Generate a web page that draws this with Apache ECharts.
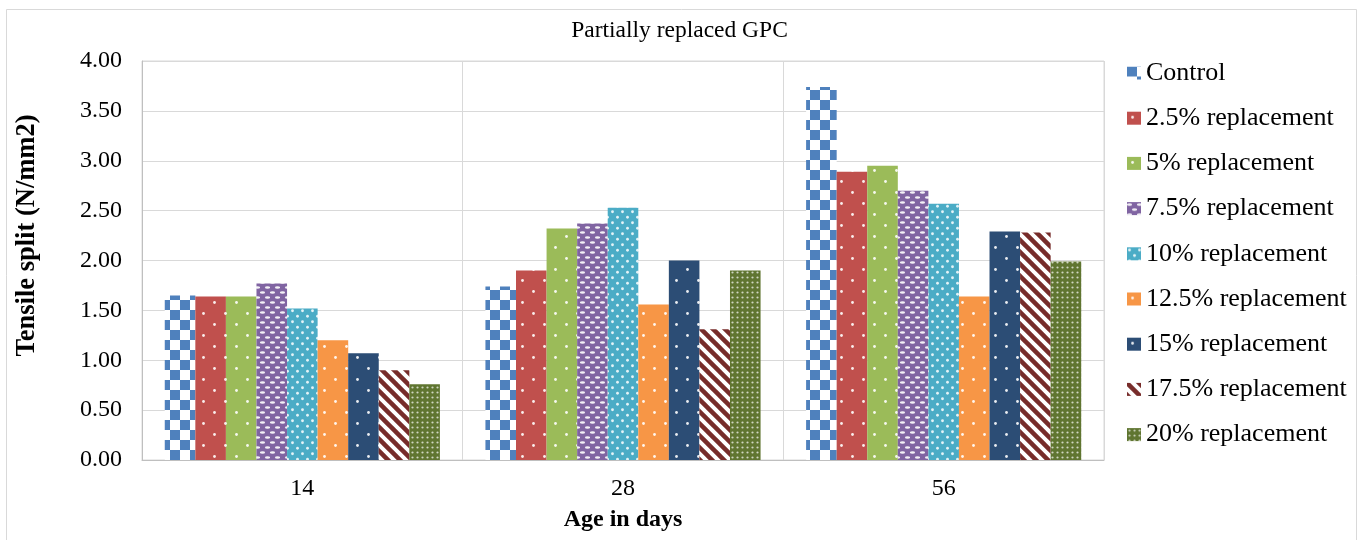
<!DOCTYPE html>
<html>
<head>
<meta charset="utf-8">
<script src="https://cdn.jsdelivr.net/npm/echarts@6/dist/echarts.min.js"></script>
<style>
html,body{margin:0;padding:0;background:#fff;}
#chart{width:1359px;height:540px;}
</style>
</head>
<body>
<div id="chart"></div>
<script>
const categories = ['14', '28', '56'];
const seriesNames = ['Control', '2.5% replacement', '5% replacement', '7.5% replacement', '10% replacement', '12.5% replacement', '15% replacement', '17.5% replacement', '20% replacement'];
const control = [1.65, 1.74, 3.74];
const rep2_5 = [1.64, 1.90, 2.89];
const rep5 = [1.64, 2.32, 2.95];
const rep7_5 = [1.77, 2.37, 2.70];
const rep10 = [1.52, 2.53, 2.57];
const rep12_5 = [1.20, 1.56, 1.64];
const rep15 = [1.07, 2.00, 2.29];
const rep17_5 = [0.90, 1.31, 2.28];
const rep20 = [0.76, 1.90, 1.99];
const yTickLabels = ['0.00', '0.50', '1.00', '1.50', '2.00', '2.50', '3.00', '3.50', '4.00'];

const seriesValues = [control, rep2_5, rep5, rep7_5, rep10, rep12_5, rep15, rep17_5, rep20];

function tile(w, h, draw) {
  const c = document.createElement('canvas');
  c.width = w; c.height = h;
  const ctx = c.getContext('2d');
  draw(ctx, w, h);
  return { image: c, repeat: 'repeat' };
}
function dot(ctx, x, y, r) { ctx.beginPath(); ctx.arc(x, y, r, 0, Math.PI * 2); ctx.fill(); }

function checker(color) {
  return tile(20, 20, (ctx) => {
    ctx.fillStyle = '#fff'; ctx.fillRect(0, 0, 20, 20);
    ctx.fillStyle = color; ctx.fillRect(0, 0, 10, 10); ctx.fillRect(10, 10, 10, 10);
  });
}
function sparseDots(color) {
  return tile(22, 22, (ctx) => {
    ctx.fillStyle = color; ctx.fillRect(0, 0, 22, 22);
    ctx.fillStyle = 'rgba(255,255,255,0.9)';
    dot(ctx, 5.5, 5.5, 1.4); dot(ctx, 16.5, 16.5, 1.4);
  });
}
function ovals(color) {
  return tile(10, 10, (ctx) => {
    ctx.fillStyle = color; ctx.fillRect(0, 0, 10, 10);
    ctx.fillStyle = 'rgba(255,255,255,0.9)';
    ctx.beginPath(); ctx.ellipse(2.5, 2.5, 2.6, 1.2, 0, 0, Math.PI * 2); ctx.fill();
    ctx.beginPath(); ctx.ellipse(7.5, 7.5, 2.6, 1.2, 0, 0, Math.PI * 2); ctx.fill();
  });
}
function denseDots(color) {
  return tile(10, 11, (ctx) => {
    ctx.fillStyle = color; ctx.fillRect(0, 0, 10, 11);
    ctx.fillStyle = 'rgba(255,255,255,0.85)';
    dot(ctx, 2.5, 2.75, 1.4); dot(ctx, 7.5, 8.25, 1.4);
  });
}
function stripes(color) {
  return tile(12, 12, (ctx) => {
    ctx.fillStyle = '#fff'; ctx.fillRect(0, 0, 12, 12);
    ctx.strokeStyle = color; ctx.lineWidth = 4.5;
    for (let k = -1; k <= 1; k++) {
      ctx.beginPath(); ctx.moveTo(k * 12 - 2, -2); ctx.lineTo(k * 12 + 14, 14); ctx.stroke();
    }
  });
}
function gridDots(color) {
  return tile(5, 5, (ctx) => {
    ctx.fillStyle = color; ctx.fillRect(0, 0, 5, 5);
    ctx.fillStyle = 'rgba(255,255,255,0.7)';
    dot(ctx, 2.5, 2.5, 1.1);
  });
}

const fills = [
  checker('#4f81bd'),
  sparseDots('#c0504d'),
  sparseDots('#9bbb59'),
  ovals('#8064a2'),
  denseDots('#4bacc6'),
  sparseDots('#f79646'),
  sparseDots('#2c4d75'),
  stripes('#772c2a'),
  gridDots('#5f7530')
];

const FONT = '"Liberation Serif", "Times New Roman", serif';

const chart = echarts.init(document.getElementById('chart'));
chart.setOption({
  animation: false,
  backgroundColor: '#fff',
  title: {
    text: 'Partially replaced GPC',
    left: 'center',
    top: 14,
    textStyle: { fontFamily: FONT, fontSize: 23.5, fontWeight: 'normal', color: '#000' }
  },
  graphic: [{
    type: 'rect',
    shape: { x: 6.5, y: 9.5, width: 1350, height: 545 },
    style: { fill: null, stroke: '#d9d9d9', lineWidth: 1 },
    silent: true
  }],
  legend: {
    orient: 'vertical',
    left: 1122,
    top: 55,
    itemWidth: 14,
    itemHeight: 13,
    itemGap: 19.2,
    icon: 'rect',
    data: seriesNames,
    textStyle: { fontFamily: FONT, fontSize: 26, color: '#000', lineHeight: 26 }
  },
  grid: {
    left: 142, right: 255, top: 61, bottom: 80,
    show: true, borderColor: '#d9d9d9', borderWidth: 1
  },
  xAxis: {
    type: 'category',
    data: categories,
    name: 'Age in days',
    nameLocation: 'middle',
    nameGap: 48,
    nameTextStyle: { fontFamily: FONT, fontSize: 24, fontWeight: 'bold', color: '#000' },
    axisLine: { show: true, lineStyle: { color: '#bfbfbf' } },
    axisTick: { show: false },
    axisLabel: { fontFamily: FONT, fontSize: 24, color: '#000', margin: 17 },
    splitLine: { show: true, lineStyle: { color: '#d9d9d9' } }
  },
  yAxis: {
    type: 'value',
    min: 0, max: 4, interval: 0.5,
    name: 'Tensile split (N/mm2)',
    nameLocation: 'middle',
    nameRotate: 90,
    nameGap: 101,
    nameTextStyle: { fontFamily: FONT, fontSize: 26.5, fontWeight: 'bold', color: '#000', padding: [0, 0, 0, 50] },
    axisLine: { show: true, lineStyle: { color: '#bfbfbf' } },
    axisTick: { show: false },
    axisLabel: {
      fontFamily: FONT, fontSize: 24, color: '#000', margin: 20,
      formatter: (v) => yTickLabels[Math.round(v / 0.5)]
    },
    splitLine: { show: true, lineStyle: { color: '#d9d9d9' } }
  },
  series: seriesNames.map((name, i) => ({
    name: name,
    type: 'bar',
    data: seriesValues[i],
    barGap: '0%',
    barCategoryGap: '14.2%',
    itemStyle: { color: fills[i] }
  }))
});
</script>
</body>
</html>
